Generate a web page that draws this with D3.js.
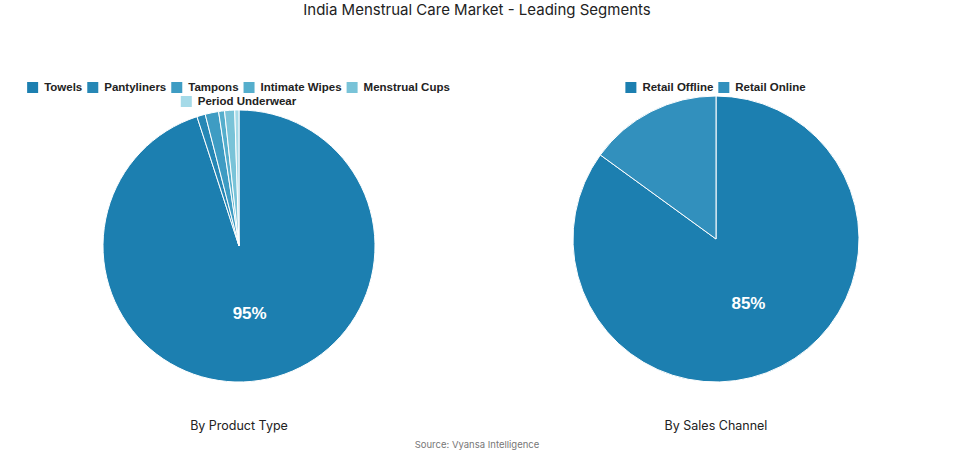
<!DOCTYPE html>
<html><head><meta charset="utf-8">
<script src="https://cdn.jsdelivr.net/npm/d3@7"></script>
<style>body{margin:0;background:#fff;font-family:Inter,"Noto Sans",sans-serif}</style>
</head><body><svg id="c" width="955" height="454"></svg>
<script>
const productCategories=["Towels","Pantyliners","Tampons","Intimate Wipes","Menstrual Cups","Period Underwear"];
const productValues=[95,1.0,1.6,0.7,1.2,0.5];
const productColors=["#1c7fb0","#2687b5","#3e9cc3","#55aecc","#79c3d8","#a5dae8"];
const channelCategories=["Retail Offline","Retail Online"];
const channelValues=[85,15];
const channelColors=["#1c7fb0","#3290bd"];
const svg=d3.select("#c");
svg.append("text").attr("x",477).attr("y",15).attr("text-anchor","middle").attr("font-size",15).attr("fill","#222").text("India Menstrual Care Market - Leading Segments");
svg.append("text").attr("x",477).attr("y",448).attr("text-anchor","middle").attr("font-size",9.5).attr("fill","#777").text("Source: Vyansa Intelligence");
function pie(cats,vals,cols,cx,cy,r,title,legendRows,lcx){
  const g=svg.append("g").attr("transform",`translate(${cx},${cy})`);
  const arcs=d3.pie().sort(null).value(d=>d)(vals);
  const arc=d3.arc().innerRadius(0).outerRadius(r);
  g.selectAll("path").data(arcs).join("path").attr("d",arc).attr("fill",(d,i)=>cols[i]).attr("stroke","#fff").attr("stroke-width",1);
  const la=d3.arc().innerRadius(r*0.5).outerRadius(r*0.5);
  const c=la.centroid(arcs[0]);
  g.append("text").attr("x",c[0]).attr("y",c[1]).attr("text-anchor","middle").attr("dy","0.35em").attr("font-size",17).attr("font-weight","bold").attr("fill","#fff").attr("font-family","Liberation Sans, Arial").text(vals[0]+"%");
  svg.append("text").attr("x",cx).attr("y",430).attr("text-anchor","middle").attr("font-size",12.5).attr("fill","#222").text(title);
  legendRows.forEach((row,ri)=>{
    const y=87+ri*14;
    const widths=row.map(i=>{const t=svg.append("text").attr("font-size",11.5).attr("font-weight","bold").attr("font-family","Liberation Sans, Arial").text(cats[i]);const w=t.node().getComputedTextLength();t.remove();return w+22;});
    const tot=d3.sum(widths)-4;let x=lcx-tot/2;
    row.forEach((i,k)=>{
      svg.append("rect").attr("x",x).attr("y",y-5).attr("width",11).attr("height",11).attr("fill",cols[i]);
      svg.append("text").attr("x",x+17).attr("y",y).attr("dy","0.35em").attr("font-size",11.5).attr("font-weight","bold").attr("font-family","Liberation Sans, Arial").attr("fill","#222").text(cats[i]);
      x+=widths[k];
    });
  });
}
pie(productCategories,productValues,productColors,239,246,136,"By Product Type",[[0,1,2,3,4],[5]],239);
pie(channelCategories,channelValues,channelColors,716,239,143,"By Sales Channel",[[0,1]],716);
</script></body></html>
